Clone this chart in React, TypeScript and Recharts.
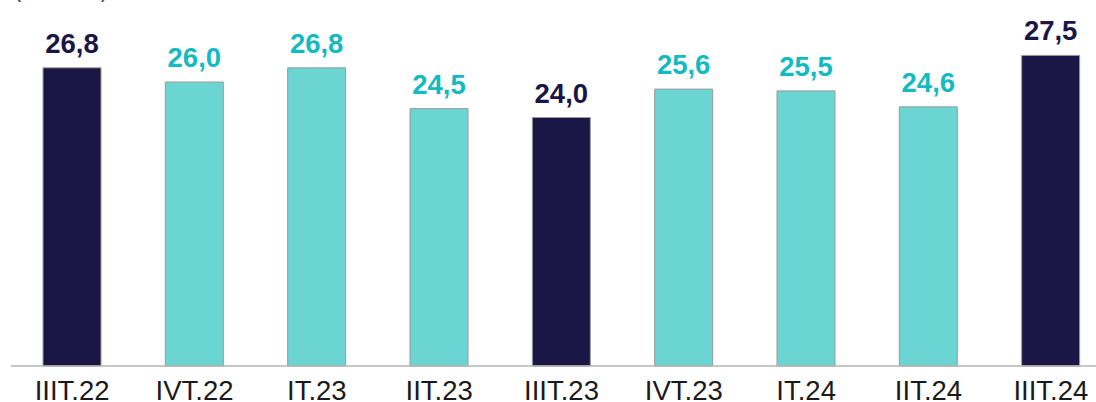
import React from "react";
import { BarChart, Bar, XAxis, YAxis, Cell, LabelList } from "recharts";

const categories = ["IIIT.22", "IVT.22", "IT.23", "IIT.23", "IIIT.23", "IVT.23", "IT.24", "IIT.24", "IIIT.24"];
const values = [26.8, 26.0, 26.8, 24.5, 24.0, 25.6, 25.5, 24.6, 27.5];
const highlighted = [true, false, false, false, true, false, false, false, true];
const unitLabel = "(triệu tấn)";

const DARK = "#1a1646";
const TEAL = "#6ad5d3";
const TEAL_TEXT = "#14bac1";
const FONT = "Liberation Sans, Arial, sans-serif";

const data = categories.map((c, i) => ({ name: c, value: values[i], hi: highlighted[i] }));

const ValueLabel = (props: any) => {
  const { x, y, width, value, index } = props;
  const hi = highlighted[index];
  return (
    <text
      x={x + width / 2}
      y={y - 15}
      textAnchor="middle"
      fontFamily={FONT}
      fontWeight="bold"
      fontSize={27.5}
      fill={hi ? DARK : TEAL_TEXT}
    >
      {Number(value).toFixed(1).replace(".", ",")}
    </text>
  );
};

const Tick = (props: any) => {
  const { x, y, payload } = props;
  return (
    <text x={x} y={y + 33.5} textAnchor="middle" fontFamily={FONT} fontSize={27.5} fill="#1a1a1a">
      {payload.value}
    </text>
  );
};

export default function App() {
  return (
    <div style={{ position: "absolute", left: 0, top: 0, width: 1096, height: 402, overflow: "hidden", background: "#fff" }}>
      <svg style={{ position: "absolute", left: 0, top: 0 }} width={300} height={20}>
        <text x={14} y={-3.5} fontFamily={FONT} fontSize={22} fill="#444">{unitLabel}</text>
      </svg>
      <div style={{ position: "absolute", left: 0, top: 0 }}>
        <BarChart
          width={1112}
          height={402}
          data={data}
          margin={{ top: 11, right: 0, left: 11, bottom: 0 }}
          barCategoryGap={64}
        >
          <YAxis hide domain={[10, 30]} type="number" />
          <XAxis
            dataKey="name"
            height={36}
            tickLine={false}
            tickSize={0}
            tickMargin={0}
            interval={0}
            axisLine={{ stroke: "#b5b5b5", strokeWidth: 1.5 }}
            tick={<Tick />}
          />
          <Bar dataKey="value" isAnimationActive={false} stroke="#9a9a9a" strokeWidth={1} barSize={58}>
            {data.map((d, i) => (
              <Cell key={i} fill={d.hi ? DARK : TEAL} />
            ))}
            <LabelList dataKey="value" content={<ValueLabel />} />
          </Bar>
        </BarChart>
      </div>
    </div>
  );
}
